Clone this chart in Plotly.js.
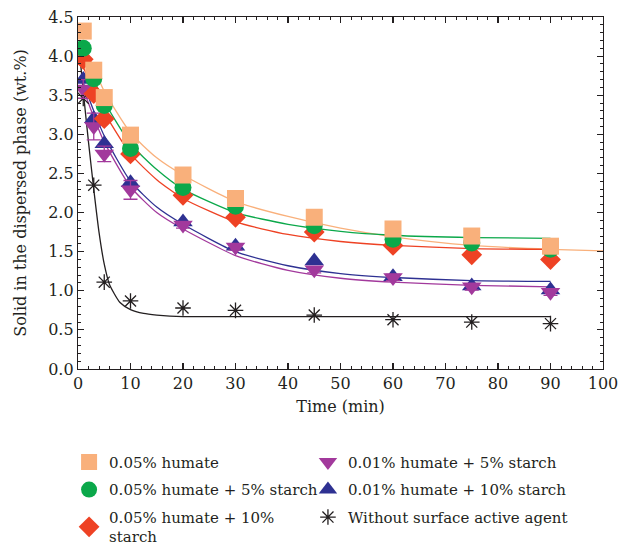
<!DOCTYPE html>
<html><head><meta charset="utf-8">
<script src="https://cdn.plot.ly/plotly-3.0.1.min.js"></script>
<style>html,body{margin:0;padding:0;background:#fff}#chart{width:620px;height:545px}</style>
</head><body><div id="chart"></div>
<script>
// Measured time points (min)
const timeMin = [1, 3, 5, 10, 20, 30, 45, 60, 75, 90];
// Measured solid content (wt.%)
const humate005 = [4.32, 3.82, 3.47, 2.99, 2.48, 2.18, 1.94, 1.79, 1.70, 1.57];
const humate005Starch5 = [4.10, 3.71, 3.37, 2.82, 2.32, 2.08, 1.83, 1.66, 1.61, 1.53];
const humate005Starch10 = [3.96, 3.52, 3.20, 2.75, 2.22, 1.94, 1.75, 1.58, 1.46, 1.40];
const humate001Starch5 = [3.58, 3.10, 2.75, 2.29, 1.84, 1.56, 1.27, 1.17, 1.05, 0.98];
const humate001Starch5Err = [0.12, 0.17, 0.10, 0.12, 0.04, 0.04, 0.04, 0.04, 0.04, 0.04];
const humate001Starch10 = [3.70, 3.20, 2.88, 2.38, 1.88, 1.57, 1.38, 1.18, 1.06, 1.01];
const noAgent = [3.46, 2.35, 1.11, 0.87, 0.78, 0.75, 0.69, 0.63, 0.60, 0.58];

// Fitted curves
const fitX = [1, 3, 5, 10, 15, 20, 30, 40, 50, 60, 75, 90];
const fitHumate005X = [1, 3, 5, 10, 15, 20, 30, 40, 50, 60, 75, 90, 100];
const fitHumate005 = [4.18, 3.85, 3.55, 3.02, 2.70, 2.48, 2.14, 1.95, 1.80, 1.69, 1.58, 1.53, 1.51];
const fitHumate005Starch5 = [4.02, 3.70, 3.42, 2.88, 2.55, 2.30, 2.00, 1.85, 1.76, 1.71, 1.68, 1.67];
const fitHumate005Starch10 = [3.86, 3.55, 3.28, 2.75, 2.42, 2.18, 1.88, 1.72, 1.63, 1.58, 1.54, 1.53];
const fitHumate001Starch10 = [3.66, 3.30, 2.98, 2.40, 2.07, 1.85, 1.50, 1.32, 1.22, 1.17, 1.13, 1.12];
const fitHumate001Starch5 = [3.58, 3.22, 2.90, 2.33, 2.00, 1.79, 1.45, 1.26, 1.16, 1.11, 1.07, 1.05];
const fitNoAgentX = [0.5, 1, 2, 3, 4, 5, 6, 8, 10, 12.5, 15, 20, 30, 60, 90];
const fitNoAgent = [3.90, 3.55, 2.90, 2.30, 1.75, 1.34, 1.08, 0.85, 0.76, 0.71, 0.69, 0.67, 0.67, 0.67, 0.67];

const labels = ['0.05% humate', '0.05% humate + 5% starch', '0.05% humate + 10%<br>starch',
  '0.01% humate + 5% starch', '0.01% humate + 10% starch', 'Without surface active agent'];

const cOrange = '#F9B07B', cGreen = '#0BA84A', cRed = '#EE4224', cPurple = '#A2399C', cNavy = '#2E3192', cBlack = '#231F20';

function fit(x, y, color) {
  return {x: x, y: y, mode: 'lines', line: {color: color, width: 1.3, shape: 'spline', smoothing: 0.6}, showlegend: false, hoverinfo: 'skip'};
}

const traces = [
  fit(fitHumate005X, fitHumate005, cOrange),
  fit(fitX, fitHumate005Starch5, cGreen),
  fit(fitX, fitHumate005Starch10, cRed),
  fit(fitX, fitHumate001Starch10, cNavy),
  fit(fitX, fitHumate001Starch5, cPurple),
  fit(fitNoAgentX, fitNoAgent, cBlack),
  {x: timeMin, y: noAgent, mode: 'markers', name: labels[5], legend: 'legend2', legendgroup: 'g6', legendrank: 3,
   marker: {symbol: 'asterisk-open', size: 13, color: cBlack, line: {color: cBlack, width: 1.3}}},
  {x: timeMin, y: humate001Starch10, mode: 'markers', name: labels[4], legend: 'legend2', legendgroup: 'g5', legendrank: 2,
   marker: {symbol: 'triangle-up', size: 17, color: cNavy}},
  {x: timeMin, y: humate001Starch5, mode: 'markers', name: labels[3], legend: 'legend2', legendgroup: 'g4', legendrank: 1,
   error_y: {type: 'data', array: humate001Starch5Err, color: cPurple, thickness: 1.3, width: 7},
   marker: {symbol: 'triangle-down', size: 17, color: cPurple}},
  {x: timeMin, y: humate005Starch10, mode: 'markers', name: labels[2], legend: 'legend', legendgroup: 'g3', legendrank: 3,
   marker: {symbol: 'diamond', size: 16, color: cRed}},
  {x: timeMin, y: humate005Starch5, mode: 'markers', name: labels[1], legend: 'legend', legendgroup: 'g2', legendrank: 2,
   marker: {symbol: 'circle', size: 17, color: cGreen}},
  {x: timeMin, y: humate005, mode: 'markers', name: labels[0], legend: 'legend', legendgroup: 'g1', legendrank: 1,
   marker: {symbol: 'square', size: 17, color: cOrange}}
];

const font = {family: '"DejaVu Serif", "Liberation Serif", serif', color: '#231F20'};
const axisCommon = {
  showline: true, linecolor: '#231F20', linewidth: 1.2, mirror: 'ticks',
  ticks: 'inside', ticklen: 6, tickwidth: 1.2, tickcolor: '#231F20',
  showgrid: false, zeroline: false, tickfont: {size: 16}
};

const legendCommon = {yref: 'container', y: 0.182, yanchor: 'top', xanchor: 'left', traceorder: 'grouped',
  font: {size: 15}, bgcolor: 'rgba(0,0,0,0)', tracegroupgap: 5, itemwidth: 30};

const layout = {
  width: 620, height: 545,
  margin: {l: 78, r: 17, t: 17, b: 176, autoexpand: false},
  paper_bgcolor: '#fff', plot_bgcolor: '#fff',
  font: Object.assign({size: 16}, font),
  xaxis: Object.assign({}, axisCommon, {
    range: [0, 100], dtick: 10, tick0: 0,
    minor: {dtick: 2, ticks: 'inside', ticklen: 3, tickwidth: 1, tickcolor: '#231F20'},
    title: {text: 'Time (min)', font: {size: 16}, standoff: 8}
  }),
  yaxis: Object.assign({}, axisCommon, {
    range: [0, 4.5], dtick: 0.5, tick0: 0, tickformat: '.1f',
    minor: {dtick: 0.1, ticks: 'inside', ticklen: 3, tickwidth: 1, tickcolor: '#231F20'},
    title: {text: 'Solid in the dispersed phase (wt.%)', font: {size: 16}, standoff: 17}
  }),
  legend: Object.assign({}, legendCommon, {x: -0.017}),
  legend2: Object.assign({}, legendCommon, {x: 0.438}),
  showlegend: true
};

Plotly.newPlot('chart', traces, layout, {displayModeBar: false, staticPlot: true});
</script></body></html>
